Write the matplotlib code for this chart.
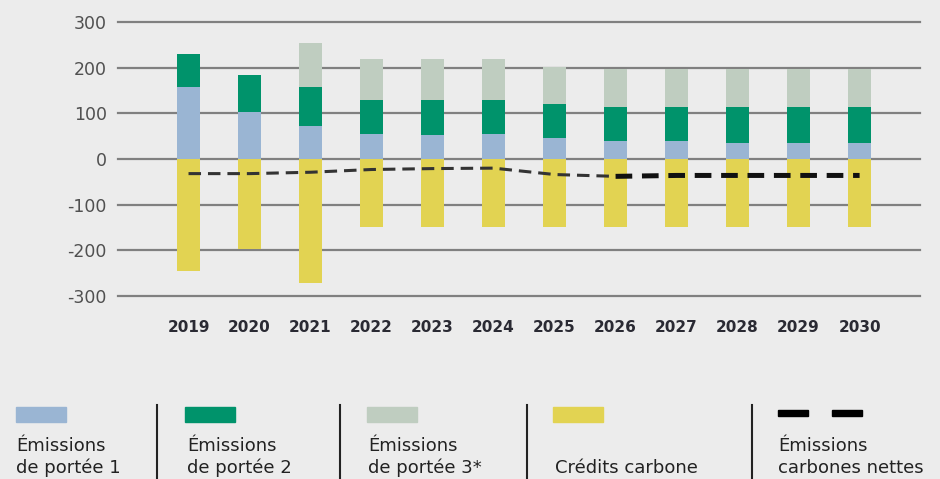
import matplotlib
matplotlib.use("Agg")
import matplotlib.pyplot as plt
import numpy as np

plt.rcParams["font.family"] = ["DejaVu Sans"]
plt.rcParams["lines.scale_dashes"] = False

years = ["2019", "2020", "2021", "2022", "2023", "2024",
         "2025", "2026", "2027", "2028", "2029", "2030"]
scope1 = [158, 104, 72, 55, 52, 55, 47, 39, 39, 34, 34, 34]
scope2 = [71, 79, 86, 74, 77, 74, 74, 74, 74, 79, 79, 79]
scope3 = [0, 0, 96, 91, 91, 91, 80, 83, 83, 83, 83, 83]
credits = [-246, -197, -271, -148, -148, -148, -148, -148, -148, -148, -148, -148]
net = [-32, -32, -29, -23, -21, -20, -34, -38, -36, -36, -36, -36]
yticks = [300, 200, 100, 0, -100, -200, -300]

c_blue = "#9ab5d3"
c_green = "#00936b"
c_grey = "#bfcdc0"
c_yellow = "#e2d352"
bg = "#ececec"

W, H = 940, 479
fig = plt.figure(figsize=(9.4, 4.79), dpi=100, facecolor=bg)
# axes placed in pixel terms
ax = fig.add_axes([118 / W, (H - 296) / H, (920 - 118) / W, (296 - 22) / H])
ax.set_facecolor(bg)

x = np.arange(len(years))
w = 0.38
s1 = np.array(scope1)
s2 = np.array(scope2)
s3 = np.array(scope3)
ax.bar(x, s1, w, color=c_blue, zorder=2)
ax.bar(x, s2, w, bottom=s1, color=c_green, zorder=2)
ax.bar(x, s3, w, bottom=s1 + s2, color=c_grey, zorder=2)
ax.bar(x, credits, w, color=c_yellow, zorder=2)

# net emissions: thin dashes until 2026, then heavier
ax.plot(x[:8], net[:8], color="#333333", lw=2.2, dashes=(9, 5), zorder=3)
ax.plot(x[7:], net[7:], color="#111111", lw=3.6, dashes=(12, 7), zorder=3)

for v in yticks:
    ax.axhline(v, color="#808080", lw=1.6, zorder=0, clip_on=False)

ax.set_ylim(-300, 300)
ax.set_xlim(-1.156, 11.99)
ax.set_yticks(yticks)
ax.set_yticklabels([str(v) for v in yticks], fontsize=12.5, color="#505050")
ax.set_xticks(x)
ax.set_xticklabels(years, fontsize=11, color="#2a2a33", fontweight="bold")
ax.tick_params(axis="y", length=0, pad=8)
ax.tick_params(axis="x", length=0, pad=17)
for sp in ax.spines.values():
    sp.set_visible(False)

# legend at the bottom, drawn in figure pixels
def fx(px):
    return px / W

def fy(py):
    return (H - py) / H

labels = [("Émissions", "de portée 1"), ("Émissions", "de portée 2"),
          ("Émissions", "de portée 3*"), ("", "Crédits carbone"),
          ("Émissions", "carbones nettes")]
swatch_x = [16, 185, 367, 553]
swatch_c = [c_blue, c_green, c_grey, c_yellow]
text_x = [16, 187, 368, 555, 778]
dividers = [157, 340, 527, 752]

for sx, sc in zip(swatch_x, swatch_c):
    fig.patches.append(plt.Rectangle((fx(sx), fy(422)), 50 / W, 15 / H,
                                     transform=fig.transFigure, color=sc))
for dx0 in [778, 832]:
    fig.patches.append(plt.Rectangle((fx(dx0), fy(416)), 30 / W, 6 / H,
                                     transform=fig.transFigure, color="black"))
for dx in dividers:
    fig.add_artist(plt.Line2D([fx(dx), fx(dx)], [fy(405), fy(482)],
                              transform=fig.transFigure, color="#222222", lw=1.5))
for tx, (l1, l2) in zip(text_x, labels):
    if l1:
        fig.text(fx(tx), fy(451), l1, fontsize=13, color="#222222", va="baseline")
    fig.text(fx(tx), fy(473), l2, fontsize=13, color="#222222", va="baseline")

fig.savefig("out.png", dpi=100, facecolor=bg)
